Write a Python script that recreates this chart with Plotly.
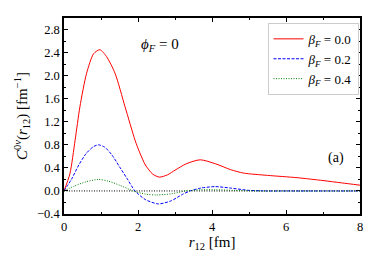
import plotly.graph_objects as go

# Red: beta_F = 0.0
x_b00 = [0, 0.16, 0.3, 0.43, 0.61, 0.8, 0.97, 1.15, 1.38, 1.65, 1.92, 2.05, 2.2, 2.4, 2.58, 2.8, 3.0, 3.3, 3.68, 4.1, 4.5, 4.85, 5.5, 6.3, 7.0, 7.5, 8.0]
y_b00 = [0, 0.3, 0.88, 1.46, 2.04, 2.38, 2.45, 2.33, 2.04, 1.46, 0.88, 0.66, 0.45, 0.29, 0.24, 0.28, 0.36, 0.47, 0.54, 0.47, 0.37, 0.31, 0.27, 0.23, 0.18, 0.14, 0.10]

# Blue: beta_F = 0.2
x_b02 = [0, 0.2, 0.4, 0.6, 0.8, 0.93, 1.1, 1.3, 1.5, 1.7, 1.92, 2.2, 2.55, 2.9, 3.2, 3.41, 3.7, 4.08, 4.5, 5.0, 5.5, 6.0, 7.0, 8.0]
y_b02 = [0, 0.2, 0.45, 0.65, 0.77, 0.80, 0.76, 0.62, 0.42, 0.22, 0.0, -0.15, -0.225, -0.17, -0.06, 0.0, 0.05, 0.075, 0.05, 0.01, 0.0, 0, 0, 0]

# Green: beta_F = 0.4
x_b04 = [0, 0.3, 0.6, 0.93, 1.2, 1.5, 1.87, 2.2, 2.5, 2.9, 3.3, 3.7, 4.1, 4.6, 5.2, 6.0, 8.0]
y_b04 = [0, 0.09, 0.16, 0.20, 0.17, 0.10, 0.0, -0.055, -0.07, -0.05, 0.0, 0.02, 0.02, 0.01, 0, 0, 0]

names = ["<i>β</i><sub><i>F</i></sub> = 0.0", "<i>β</i><sub><i>F</i></sub> = 0.2", "<i>β</i><sub><i>F</i></sub> = 0.4"]

FONT = "Liberation Serif"

fig = go.Figure()
fig.add_trace(go.Scatter(x=x_b00, y=y_b00, mode="lines", name=names[0],
                         line=dict(color="#ff0000", width=1, shape="spline", smoothing=0.7)))
fig.add_trace(go.Scatter(x=x_b02, y=y_b02, mode="lines", name=names[1],
                         line=dict(color="#0000ff", width=1, dash="3px,1.5px", shape="spline", smoothing=0.7)))
fig.add_trace(go.Scatter(x=x_b04, y=y_b04, mode="lines", name=names[2],
                         line=dict(color="#008000", width=1, dash="1px,1.5px", shape="spline", smoothing=0.7)))

fig.add_shape(type="line", xref="x", yref="y", x0=0, x1=8, y0=0, y1=0,
              line=dict(color="black", width=1, dash="1px,1.5px"), layer="below")

axis_common = dict(
    showline=True, linecolor="black", linewidth=1.5, mirror="ticks",
    ticks="inside", ticklen=4, tickwidth=1, tickcolor="black",
    showgrid=False, zeroline=False, automargin=False,
    tickfont=dict(family=FONT, size=12.5, color="black"),
)

fig.update_xaxes(range=[0, 8], dtick=2, tick0=0,
                 minor=dict(dtick=1, ticks="inside", ticklen=2.5, tickcolor="black"),
                 title=dict(text="<i>r</i><sub>12</sub> [fm]", font=dict(family=FONT, size=15, color="black"), standoff=4),
                 **axis_common)
fig.update_yaxes(range=[-0.4, 3.0], dtick=0.4, tick0=0, tickformat=".1f",
                 minor=dict(dtick=0.2, ticks="inside", ticklen=2.5, tickcolor="black"),
                 title=dict(text="<i>C</i><sup>0<i>ν</i></sup>(<i>r</i><sub>12</sub>) [fm<sup>−1</sup>]",
                            font=dict(family=FONT, size=15, color="black"), standoff=6),
                 **axis_common)

fig.add_annotation(x=2.6, y=2.53, xref="x", yref="y", text="<i>ϕ</i><sub><i>F</i></sub> = 0",
                   showarrow=False, font=dict(family=FONT, size=15, color="black"))
fig.add_annotation(x=7.35, y=0.57, xref="x", yref="y", text="(a)",
                   showarrow=False, font=dict(family=FONT, size=14, color="black"))

fig.update_layout(
    width=374, height=259,
    margin=dict(l=56, r=22, t=10, b=53),
    paper_bgcolor="white", plot_bgcolor="white",
    font=dict(family=FONT, size=12, color="black"),
    legend=dict(x=0.995, y=0.975, xanchor="right", yanchor="top",
                bgcolor="white", bordercolor="#cccccc", borderwidth=1,
                font=dict(family=FONT, size=13, color="black"),
                itemwidth=30, tracegroupgap=0),
    showlegend=True,
)

fig.write_html("out.html")
